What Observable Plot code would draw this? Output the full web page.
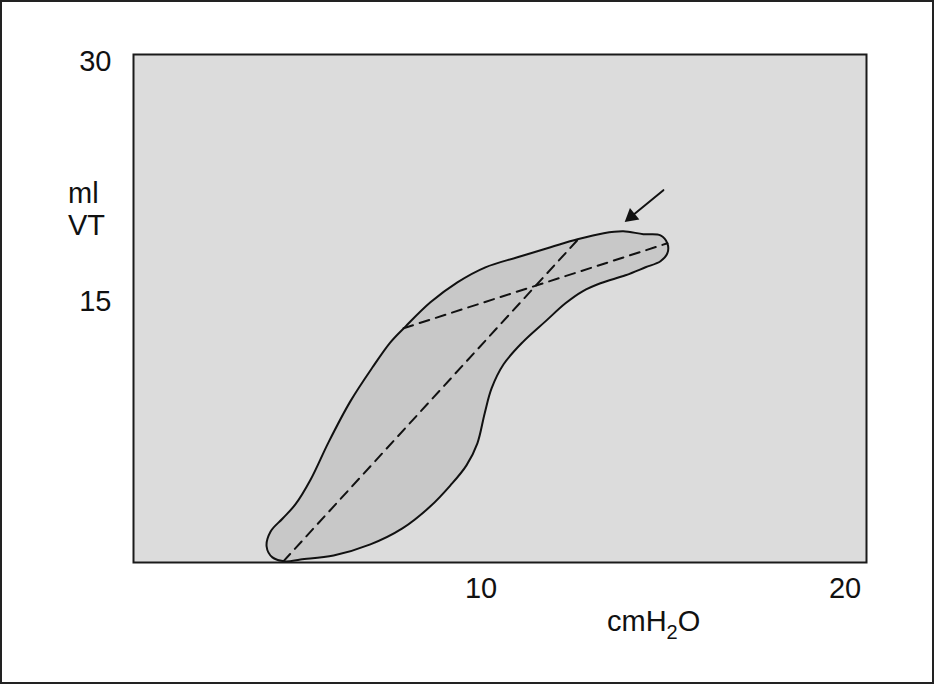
<!DOCTYPE html>
<html><head><meta charset="utf-8">
<script src="https://cdn.jsdelivr.net/npm/d3@7"></script>
<script src="https://cdn.jsdelivr.net/npm/@observablehq/plot@0.6"></script>
<style>body{margin:0;background:#fff}</style>
</head><body><div id="chart"></div>
<script>
// Pressure (cmH2O) / volume (ml) loop outline
const loopPressure = [4.63,4.27,4.11,4.22,4.55,4.90,5.32,5.81,6.41,7.02,7.51,7.93,8.61,9.35,10.12,11.00,11.91,12.65,13.37,13.91,14.46,14.93,15.12,15.12,14.93,14.52,13.97,13.28,12.79,12.32,11.77,11.14,10.62,10.29,10.10,9.90,9.60,9.16,8.61,7.84,6.96,5.95,5.04];
const loopVolume   = [-1.24,-0.99,-0.31,0.63,1.44,2.32,3.88,6.20,8.76,10.89,12.45,13.45,14.95,16.20,17.14,17.77,18.39,18.89,19.27,19.39,19.21,19.14,18.64,18.02,17.52,17.14,16.64,16.14,15.64,14.89,13.76,12.45,11.08,9.57,8.01,6.14,4.76,3.51,2.20,0.82,-0.18,-0.87,-1.12];
// dashed compliance lines
const upperPressure = [7.87, 15.12];
const upperVolume   = [13.33, 18.64];
const diagPressure  = [4.57, 12.65];
const diagVolume    = [-1.24, 18.84];
// arrow (start, tip)
const arrowPressure = [15.01, 13.97];
const arrowVolume   = [21.96, 20.02];
// ticks
const xTicks = [10, 20];
const yTicks = [15, 30];
const xDomain = [0.453, 20.59];
const yDomain = [-1.31, 30.44];

const loop = loopPressure.map((p, i) => ({p, v: loopVolume[i]}));
const upper = upperPressure.map((p, i) => ({p, v: upperVolume[i]}));
const diag = diagPressure.map((p, i) => ({p, v: diagVolume[i]}));

// arrow head geometry, derived from arrow data (screen aspect: px per unit)
const kx = 733 / (xDomain[1] - xDomain[0]), ky = 508 / (yDomain[1] - yDomain[0]);
const dxp = (arrowPressure[1] - arrowPressure[0]) * kx;
const dyp = -(arrowVolume[1] - arrowVolume[0]) * ky;
const len = Math.hypot(dxp, dyp);
const back = 7.5; // px from tip to triangle centroid
const headP = arrowPressure[1] - (dxp / len) * back / kx;
const headV = arrowVolume[1] + (dyp / len) * back / ky;
const rot = Math.atan2(dyp, dxp) * 180 / Math.PI + 90;
const shaft = [{p: arrowPressure[0], v: arrowVolume[0]}, {p: headP, v: headV}];
const head = [{p: headP, v: headV}];

const font = "'Liberation Sans', Arial, Helvetica, sans-serif";

const svg = Plot.plot({
  width: 934,
  height: 684,
  marginLeft: 133,
  marginRight: 68,
  marginTop: 54,
  marginBottom: 122,
  style: {fontFamily: font, background: "#fff", color: "#111"},
  x: {domain: xDomain},
  y: {domain: yDomain},
  marks: [
    Plot.frame({fill: "#dcdcdc", stroke: "none"}),
    Plot.line(loop, {x: "p", y: "v", curve: "catmull-rom-closed", fill: "#c8c8c8", stroke: "#111", strokeWidth: 2, clip: true}),
    Plot.line(upper, {x: "p", y: "v", stroke: "#111", strokeWidth: 2, strokeDasharray: "10,7"}),
    Plot.line(diag, {x: "p", y: "v", stroke: "#111", strokeWidth: 2, strokeDasharray: "10,7"}),
    Plot.line(shaft, {x: "p", y: "v", stroke: "#111", strokeWidth: 2}),
    Plot.dot(head, {x: "p", y: "v", symbol: "triangle", r: 5.5, fill: "#111", stroke: "none", rotate: rot}),
    Plot.frame({stroke: "#1a1a1a", strokeWidth: 2}),
    Plot.axisX(xTicks, {tickSize: 0, tickPadding: 15, fontSize: 29, label: null}),
    Plot.axisY(yTicks, {tickSize: 0, tickPadding: 22, fontSize: 29, label: null})
  ]
});

const s = d3.select(svg);
s.append("rect").attr("x", 1).attr("y", 1).attr("width", 932).attr("height", 682)
  .attr("fill", "none").attr("stroke", "#222").attr("stroke-width", 2);
const g = s.append("g").attr("font-family", font).attr("font-size", 29)
  .attr("fill", "#111").attr("text-anchor", "start");
g.append("text").attr("x", 68).attr("y", 203).text("ml");
g.append("text").attr("x", 68).attr("y", 235).text("VT");
const t = g.append("text").attr("x", 607).attr("y", 631);
t.append("tspan").text("cmH");
t.append("tspan").attr("font-size", 20).attr("dy", 8).text("2");
t.append("tspan").attr("dy", -8).text("O");

document.getElementById("chart").appendChild(svg);
</script>
</body></html>
